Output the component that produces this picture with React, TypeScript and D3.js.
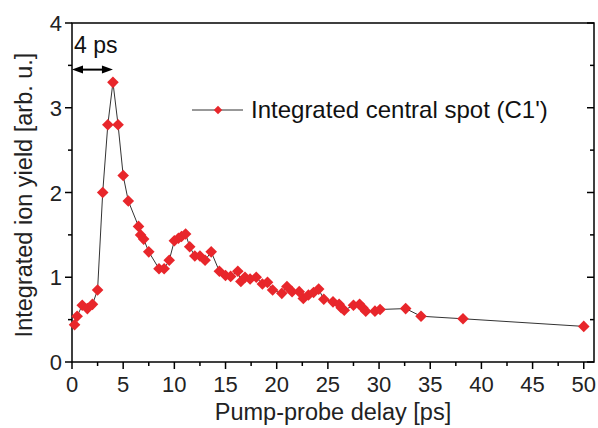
import React from "react";
import * as d3 from "d3";

const delays = [0.25, 0.5, 1.0, 1.5, 2.0, 2.5, 3.0, 3.5, 4.0, 4.5, 5.0, 5.5, 6.5, 6.7, 7.0, 7.5, 8.5, 9.0, 9.5, 10.0, 10.4, 10.7, 11.1, 11.5, 12.0, 12.5, 13.0, 13.6, 14.4, 15.0, 15.5, 16.2, 16.5, 16.9, 17.4, 18.0, 18.6, 19.1, 19.6, 20.5, 21.0, 21.5, 22.2, 22.6, 23.1, 23.6, 24.1, 24.6, 25.5, 26.1, 26.3, 26.6, 27.5, 28.1, 28.4, 28.7, 29.6, 30.1, 32.6, 34.1, 38.2, 50.0];
const yields = [0.44, 0.54, 0.67, 0.63, 0.68, 0.85, 2.0, 2.8, 3.3, 2.8, 2.2, 1.9, 1.6, 1.5, 1.45, 1.3, 1.1, 1.1, 1.2, 1.43, 1.46, 1.48, 1.51, 1.36, 1.25, 1.25, 1.2, 1.3, 1.07, 1.02, 1.01, 1.07, 0.95, 1.0, 0.98, 1.0, 0.92, 0.94, 0.85, 0.81, 0.89, 0.83, 0.83, 0.75, 0.79, 0.82, 0.86, 0.74, 0.71, 0.68, 0.64, 0.61, 0.67, 0.68, 0.64, 0.6, 0.6, 0.62, 0.63, 0.54, 0.51, 0.42];
const xMajorTicks = [0, 5, 10, 15, 20, 25, 30, 35, 40, 45, 50];
const xMinorTicks = [2.5, 7.5, 12.5, 17.5, 22.5, 27.5, 32.5, 37.5, 42.5, 47.5];
const yMajorTicks = [0, 1, 2, 3, 4];
const yMinorTicks = [0.5, 1.5, 2.5, 3.5];
const seriesName = "Integrated central spot (C1')";
const xTitle = "Pump-probe delay [ps]";
const yTitle = "Integrated ion yield [arb. u.]";
const arrowLabel = "4 ps";
const arrowSpan = [0, 4];
const arrowLevel = 3.45;

const W = 598, H = 428;
const L = 72, R = 594, T = 23, B = 362;
const font = "'Liberation Sans', Arial, sans-serif";
const red = "#e8262b";

function Diamond({ cx, cy, r }: { cx: number; cy: number; r: number }) {
  return <path d={`M${cx},${cy - r}L${cx + r},${cy}L${cx},${cy + r}L${cx - r},${cy}Z`} fill={red} />;
}

export default function App() {
  const x = d3.scaleLinear().domain([0, 51]).range([L, R]);
  const y = d3.scaleLinear().domain([0, 4]).range([B, T]);
  const pts = delays.map((d, i) => [d, yields[i]] as [number, number]);
  const line = d3.line<[number, number]>().x(d => x(d[0])).y(d => y(d[1]))(pts) || "";
  const ay = y(arrowLevel);
  const ax0 = x(arrowSpan[0]), ax1 = x(arrowSpan[1]);
  return (
    <svg width={W} height={H} style={{ position: "absolute", left: 0, top: 0, background: "#fff" }} fontFamily={font}>
      <rect x={L} y={T} width={R - L} height={B - T} fill="none" stroke="#000" strokeWidth={1.5} />
      {xMajorTicks.map(t => (
        <g key={"xm" + t}>
          <line x1={x(t)} x2={x(t)} y1={B} y2={B + 7} stroke="#000" strokeWidth={1.5} />
          <text x={x(t)} y={392} fontSize={22} textAnchor="middle" fill="#222">{t}</text>
        </g>
      ))}
      {xMinorTicks.map(t => (
        <line key={"xn" + t} x1={x(t)} x2={x(t)} y1={B} y2={B + 4} stroke="#000" strokeWidth={1.5} />
      ))}
      {yMajorTicks.map(t => (
        <g key={"ym" + t}>
          <line x1={L - 7} x2={L} y1={y(t)} y2={y(t)} stroke="#000" strokeWidth={1.5} />
          <line x1={R - 7} x2={R} y1={y(t)} y2={y(t)} stroke="#000" strokeWidth={1.5} />
          <text x={L - 10} y={y(t) + 8} fontSize={22} textAnchor="end" fill="#222">{t}</text>
        </g>
      ))}
      {yMinorTicks.map(t => (
        <g key={"yn" + t}>
          <line x1={L - 4} x2={L} y1={y(t)} y2={y(t)} stroke="#000" strokeWidth={1.5} />
          <line x1={R - 4} x2={R} y1={y(t)} y2={y(t)} stroke="#000" strokeWidth={1.5} />
        </g>
      ))}
      <path d={line} fill="none" stroke="#333" strokeWidth={1} />
      {pts.map((p, i) => <Diamond key={i} cx={x(p[0])} cy={y(p[1])} r={5.8} />)}
      <line x1={ax0 + 8} x2={ax1 - 8} y1={ay} y2={ay} stroke="#000" strokeWidth={2} />
      <path d={`M${ax0},${ay}L${ax0 + 11},${ay - 4}L${ax0 + 11},${ay + 4}Z`} fill="#000" />
      <path d={`M${ax1},${ay}L${ax1 - 11},${ay - 4}L${ax1 - 11},${ay + 4}Z`} fill="#000" />
      <text x={ax0 + 2} y={53} fontSize={23} fill="#111">{arrowLabel}</text>
      <line x1={192} x2={243} y1={110} y2={110} stroke="#333" strokeWidth={1} />
      <Diamond cx={218} cy={110} r={4.2} />
      <text x={251} y={118} fontSize={24} fill="#111">{seriesName}</text>
      <text x={(L + R) / 2} y={420} fontSize={23.5} textAnchor="middle" fill="#222">{xTitle}</text>
      <text transform={`translate(32,195) rotate(-90)`} fontSize={23.5} textAnchor="middle" fill="#222">{yTitle}</text>
    </svg>
  );
}
